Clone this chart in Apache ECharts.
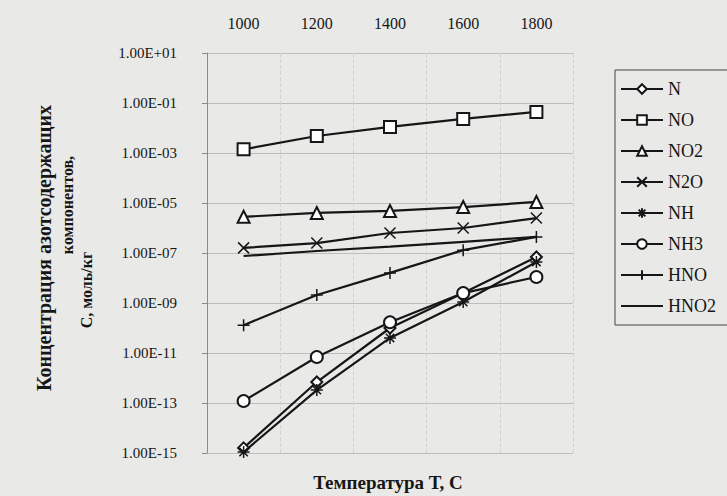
<!DOCTYPE html>
<html>
<head>
<meta charset="utf-8">
<script src="https://cdn.jsdelivr.net/npm/echarts@6/dist/echarts.min.js"></script>
<style>
  html, body { margin: 0; padding: 0; background: #e9e9e7; }
  #chart { width: 727px; height: 496px; }
</style>
</head>
<body>
<div id="chart"></div>
<script>
// температуры, C
const temps = ['1000', '1200', '1400', '1600', '1800']
// концентрации, моль/кг (по графику)
const cN = [1.6e-15, 6.9e-13, 1.0e-10, 2.5e-9, 6.9e-8]
const cNO = [1.4e-3, 4.8e-3, 1.1e-2, 2.3e-2, 4.4e-2]
const cNO2 = [2.8e-6, 4.0e-6, 4.8e-6, 6.9e-6, 1.1e-5]
const cN2O = [1.6e-7, 2.5e-7, 6.3e-7, 1.0e-6, 2.5e-6]
const cNH = [1.1e-15, 3.3e-13, 4.0e-11, 1.1e-9, 4.4e-8]
const cNH3 = [1.2e-13, 6.9e-12, 1.7e-10, 2.5e-9, 1.1e-8]
const cHNO = [1.3e-10, 2.1e-9, 1.6e-8, 1.3e-7, 4.4e-7]
const cHNO2 = [7.6e-8, 1.2e-7, 1.8e-7, 2.8e-7, 4.4e-7]

const serif = "'Liberation Serif', 'DejaVu Serif', serif"
const ink = '#161616'

const X_PATH = 'path://M0,0L10,10M10,0L0,10'
const STAR_PATH = 'path://M5,0L5,10M0,5L10,5M1.5,1.5L8.5,8.5M8.5,1.5L1.5,8.5'
const PLUS_PATH = 'path://M5,0L5,10M0,5L10,5'

function makeSeries (name, data, symbol, size) {
  return {
    name: name,
    type: 'line',
    data: data,
    symbol: symbol,
    symbolSize: size,
    showAllSymbol: true,
    lineStyle: { color: ink, width: 2.2 },
    itemStyle: { color: ink, borderColor: ink, borderWidth: 1.5 },
    z: 3
  }
}

const chart = echarts.init(document.getElementById('chart'), null, { renderer: 'svg' })
const option = {
  backgroundColor: '#e9e9e7',
  animation: false,
  textStyle: { fontFamily: serif },
  grid: { left: 207, right: 154, top: 53, bottom: 43 },
  legend: {
    orient: 'vertical',
    left: 615,
    top: 70,
    itemWidth: 42,
    itemHeight: 12,
    itemGap: 13,
    padding: [10, 40, 10, 5],
    borderColor: '#444',
    borderWidth: 1,
    textStyle: { fontFamily: serif, fontSize: 18, color: ink },
    data: ['N', 'NO', 'NO2', 'N2O', 'NH', 'NH3', 'HNO',
      { name: 'HNO2', itemStyle: { opacity: 0, color: 'transparent', borderWidth: 0 } }]
  },
  xAxis: {
    type: 'category',
    position: 'top',
    data: temps,
    boundaryGap: true,
    axisLine: { show: false },
    axisTick: { show: false },
    axisLabel: { margin: 22, fontSize: 16, color: ink, fontFamily: serif },
    splitLine: { show: true, lineStyle: { color: '#d2d2d0', width: 1, type: 'dashed' } }
  },
  yAxis: {
    type: 'log',
    logBase: 10,
    min: 1e-15,
    max: 10,
    interval: 2,
    axisLine: { show: true, lineStyle: { color: '#8a8a8a' } },
    axisTick: { show: true, length: 5, lineStyle: { color: '#8a8a8a' } },
    axisLabel: {
      margin: 30,
      fontSize: 15,
      color: ink,
      fontFamily: serif,
      formatter: function (v) {
        const e = Math.round(Math.log10(v))
        return '1.00E' + (e < 0 ? '-' : '+') + String(Math.abs(e)).padStart(2, '0')
      }
    },
    splitLine: { show: true, lineStyle: { color: '#bdbdbb', width: 1 } }
  },
  graphic: [
    {
      type: 'text', x: 44, y: 248, rotation: Math.PI / 2,
      style: { text: 'Концентрация азотсодержащих', fill: ink, font: 'bold 20px ' + serif, textAlign: 'center', textVerticalAlign: 'middle' }
    },
    {
      type: 'text', x: 67, y: 205, rotation: Math.PI / 2,
      style: { text: 'компонентов,', fill: ink, font: 'bold 16px ' + serif, textAlign: 'center', textVerticalAlign: 'middle' }
    },
    {
      type: 'text', x: 86, y: 290, rotation: Math.PI / 2,
      style: { text: 'С, моль/кг', fill: ink, font: 'bold 16px ' + serif, textAlign: 'center', textVerticalAlign: 'middle' }
    },
    {
      type: 'text', x: 388, y: 482,
      style: { text: 'Температура Т, С', fill: ink, font: 'bold 19px ' + serif, textAlign: 'center', textVerticalAlign: 'middle' }
    }
  ],
  series: [
    makeSeries('N', cN, 'emptyDiamond', 11),
    makeSeries('NO', cNO, 'emptyRect', 12),
    makeSeries('NO2', cNO2, 'emptyTriangle', 12),
    makeSeries('N2O', cN2O, X_PATH, 11),
    makeSeries('NH', cNH, STAR_PATH, 12),
    makeSeries('NH3', cNH3, 'emptyCircle', 12),
    makeSeries('HNO', cHNO, PLUS_PATH, 12),
    makeSeries('HNO2', cHNO2, 'none', 0)
  ]
}
chart.setOption(option)
</script>
</body>
</html>
